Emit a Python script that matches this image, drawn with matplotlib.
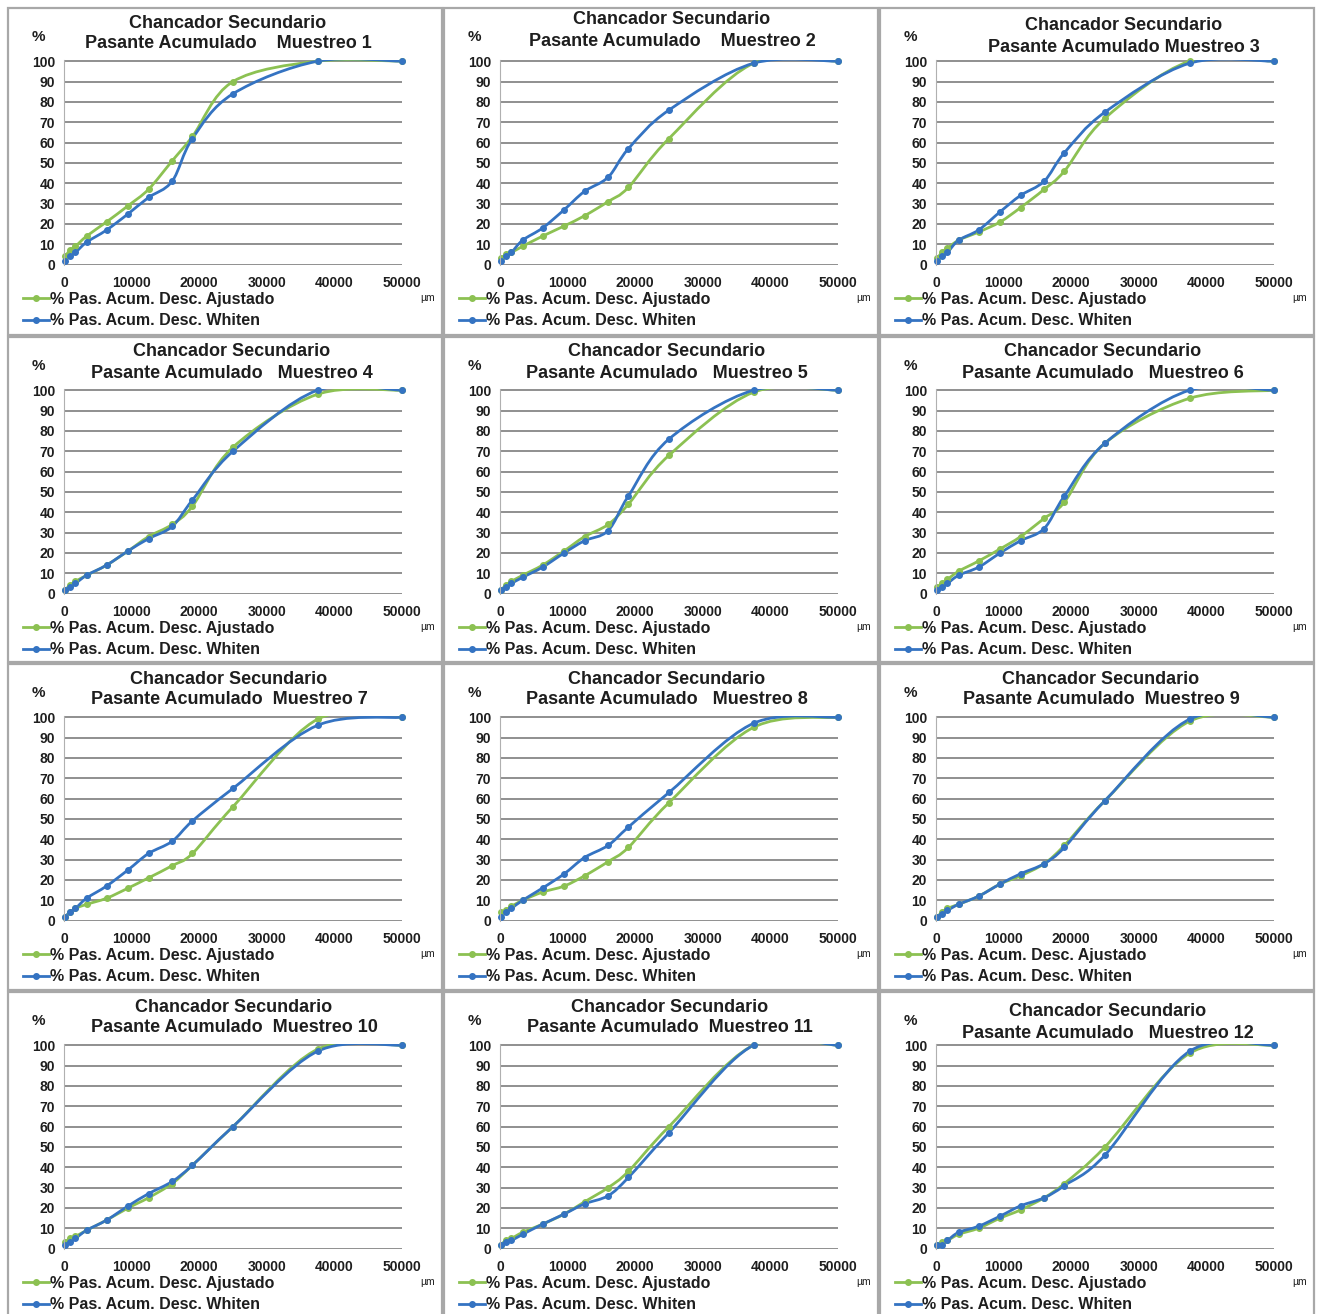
import numpy as np
import matplotlib
matplotlib.use("Agg")
import matplotlib.pyplot as plt
from matplotlib.path import Path
from matplotlib.patches import PathPatch, Rectangle
from matplotlib.lines import Line2D

plt.rcParams['font.family'] = ['Liberation Sans', 'DejaVu Sans']

# sieve openings (um)
sizes = [212, 850, 1700, 3350, 6300, 9500, 12500, 16000, 19000, 25000, 37500, 50000]

# % passing, fitted curve (Ajustado) and Whiten model, one list per sample
ajustado = [
    [4, 7, 9, 14, 21, 29, 37, 51, 63, 90, 100, 100],
    [3, 5, 6, 9, 14, 19, 24, 31, 38, 62, 99, 100],
    [3, 6, 8, 12, 16, 21, 28, 37, 46, 72, 100, 100],
    [2, 4, 6, 9, 14, 21, 28, 34, 43, 72, 98, 100],
    [2, 4, 6, 9, 14, 21, 28, 34, 44, 68, 99, 100],
    [3, 5, 7, 11, 16, 22, 28, 37, 45, 74, 96, 100],
    [2, 4, 6, 8, 11, 16, 21, 27, 33, 56, 99, 100],
    [4, 5, 7, 10, 14, 17, 22, 29, 36, 58, 95, 100],
    [2, 4, 6, 8, 12, 18, 22, 28, 37, 59, 98, 100],
    [3, 5, 6, 9, 14, 20, 25, 32, 41, 60, 98, 100],
    [2, 4, 5, 8, 12, 17, 23, 30, 38, 60, 100, 100],
    [2, 3, 4, 7, 10, 15, 19, 25, 32, 50, 96, 100],
]
whiten = [
    [2, 4, 6, 11, 17, 25, 33, 41, 62, 84, 100, 100],
    [2, 4, 6, 12, 18, 27, 36, 43, 57, 76, 99, 100],
    [2, 4, 6, 12, 17, 26, 34, 41, 55, 75, 99, 100],
    [2, 3, 5, 9, 14, 21, 27, 33, 46, 70, 100, 100],
    [2, 3, 5, 8, 13, 20, 26, 31, 48, 76, 100, 100],
    [2, 3, 5, 9, 13, 20, 26, 32, 48, 74, 100, 100],
    [2, 4, 6, 11, 17, 25, 33, 39, 49, 65, 96, 100],
    [2, 4, 6, 10, 16, 23, 31, 37, 46, 63, 97, 100],
    [2, 3, 5, 8, 12, 18, 23, 28, 36, 59, 99, 100],
    [2, 3, 5, 9, 14, 21, 27, 33, 41, 60, 97, 100],
    [2, 3, 4, 7, 12, 17, 22, 26, 35, 57, 100, 100],
    [2, 2, 4, 8, 11, 16, 21, 25, 31, 46, 97, 100],
]
gaps = [4, 4, 1, 3, 3, 3, 2, 3, 2, 2, 2, 3]
xticks = [0, 10000, 20000, 30000, 40000, 50000]
yticks = list(range(0, 101, 10))
lbl_aj = "% Pas. Acum. Desc. Ajustado"
lbl_wh = "% Pas. Acum. Desc. Whiten"

GREEN = "#8cc152"
BLUE = "#3473c2"
TXT = "#1e1e1e"
W, H = 1318, 1314


def smooth_path(x, y):
    # Excel-style smoothed line: cubic bezier through every point
    x = np.asarray(x, float)
    y = np.asarray(y, float)
    n = len(x)
    verts = [(x[0], y[0])]
    codes = [Path.MOVETO]
    for i in range(n - 1):
        i0, i2 = max(i - 1, 0), min(i + 2, n - 1)
        c1 = (x[i] + (x[i + 1] - x[i0]) / 6, y[i] + (y[i + 1] - y[i0]) / 6)
        c2 = (x[i + 1] - (x[i2] - x[i]) / 6, y[i + 1] - (y[i2] - y[i]) / 6)
        verts += [c1, c2, (x[i + 1], y[i + 1])]
        codes += [Path.CURVE4] * 3
    return Path(verts, codes)


def fx(px):
    return px / W


def fy(py):
    return 1 - py / H


fig = plt.figure(figsize=(W / 100, H / 100), dpi=100)

cell_left = [8, 444, 880]
cell_top = [8, 337, 664, 992]
title_dx = [220, 228, 244, 224, 223, 223, 221, 223, 221, 226, 226, 228]
title_dy = [0, -3, 3, 0, 0, 0, 0, 0, 0, 0, 0, 5]

for k in range(12):
    r, c = divmod(k, 3)
    cl, ct = cell_left[c], cell_top[r]
    cw = 434
    ch = (cell_top[r + 1] if r < 3 else H + 10) - ct - 2

    fig.patches.append(Rectangle((fx(cl), fy(ct + ch)), cw / W, ch / H,
                                 transform=fig.transFigure, fill=False,
                                 edgecolor="#a8a8a8", lw=1.6))

    ax = fig.add_axes([fx(cl + 56), fy(ct + 257), 338 / W, 205 / H])
    ax.set_xlim(0, 50000)
    ax.set_ylim(-0.2, 100.6)
    ax.set_xticks(xticks)
    ax.set_yticks(yticks)
    ax.yaxis.grid(True, color="#7d7d7d", lw=1.2)
    ax.set_axisbelow(True)
    for s in ["top", "right", "bottom"]:
        ax.spines[s].set_visible(False)
    ax.spines["left"].set_color("#b0b0b0")
    ax.tick_params(length=0, labelsize=10, labelcolor=TXT)
    ax.tick_params(axis="y", pad=6.5)
    ax.tick_params(axis="x", pad=8)
    for t in ax.get_xticklabels() + ax.get_yticklabels():
        t.set_fontweight("bold")

    for vals, col in [(ajustado[k], GREEN), (whiten[k], BLUE)]:
        ax.add_patch(PathPatch(smooth_path(sizes, vals), fill=False,
                               edgecolor=col, lw=2.0, capstyle="round"))
        ax.plot(sizes, vals, ls="none", marker="o", ms=4, color=col, clip_on=False)

    ty = ct + 15 + title_dy[k]
    fig.text(fx(cl + title_dx[k]), fy(ty), "Chancador Secundario",
             ha="center", va="center", fontsize=13, fontweight="bold", color=TXT)
    line2 = "Pasante Acumulado" + " " * gaps[k] + "Muestreo %d" % (k + 1)
    fig.text(fx(cl + title_dx[k]), fy(ty + 21), line2,
             ha="center", va="center", fontsize=13, fontweight="bold", color=TXT)

    fig.text(fx(cl + 30), fy(ct + 29), "%", ha="center", va="center",
             fontsize=11, fontweight="bold", color=TXT)
    fig.text(fx(cl + 420), fy(ct + 290), "µm", ha="center", va="center",
             fontsize=7.5, color=TXT)

    handles = [Line2D([], [], color=GREEN, lw=2, marker="o", ms=4),
               Line2D([], [], color=BLUE, lw=2, marker="o", ms=4)]
    fig.legend(handles, [lbl_aj, lbl_wh], loc="upper left",
               bbox_to_anchor=(fx(cl + 15), fy(ct + 284)),
               frameon=False, borderpad=0, borderaxespad=0,
               handlelength=1.6, handletextpad=0.1, labelspacing=0.4,
               prop={"size": 11.5, "weight": "bold"}, labelcolor=TXT)

fig.savefig("out.png", dpi=100, facecolor="white")
